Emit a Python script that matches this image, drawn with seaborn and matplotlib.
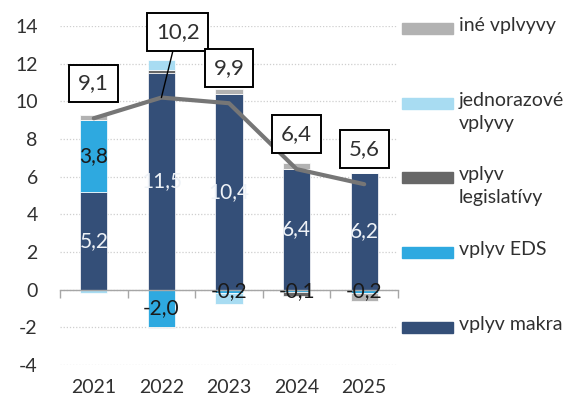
import numpy as np
import pandas as pd
import matplotlib
matplotlib.use("Agg")
import matplotlib.pyplot as plt
from matplotlib.patches import Rectangle
import seaborn as sns

years = ['2021', '2022', '2023', '2024', '2025']
makra = [5.2, 11.5, 10.4, 6.4, 6.2]
eds = [3.8, -2.0, -0.2, -0.1, -0.2]
legislativa = [0.0, 0.15, 0.0, -0.25, 0.0]
jednorazove = [-0.2, 0.55, -0.55, 0.0, 0.0]
ine = [0.3, -0.05, 0.25, 0.35, -0.4]
total = [9.1, 10.2, 9.9, 6.4, 5.6]

series = ['vplyv makra', 'vplyv EDS', 'vplyv legislatívy', 'jednorazové vplyvy', 'iné vplvyvy']
legend_labels = ['iné vplvyvy', 'jednorazové\nvplyvy', 'vplyv\nlegislatívy', 'vplyv EDS', 'vplyv makra']
colors = {
    'vplyv makra': '#344f78',
    'vplyv EDS': '#2ea9e0',
    'vplyv legislatívy': '#676767',
    'jednorazové vplyvy': '#a8dcf2',
    'iné vplvyvy': '#b2b2b2',
}

df = pd.DataFrame({
    'rok': years,
    'vplyv makra': makra,
    'vplyv EDS': eds,
    'vplyv legislatívy': legislativa,
    'jednorazové vplyvy': jednorazove,
    'iné vplvyvy': ine,
})

sns.set_theme(style='white')
plt.rcParams['font.family'] = ['Lato', 'DejaVu Sans']
plt.rcParams['axes.unicode_minus'] = False

TXT = '#303030'


def fmt(v):
    return f"{v:.1f}".replace('.', ',')


fig = plt.figure(figsize=(5.65, 4.05), dpi=100)
ax = fig.add_axes([60 / 565, 40 / 405, 338 / 565, 339 / 405])

# stacked bars: positive parts stack up, negative parts stack down
pos_base = np.zeros(len(years))
neg_base = np.zeros(len(years))
for name in series:
    vals = df[name].to_numpy()
    bottom = np.where(vals >= 0, pos_base, neg_base)
    sns.barplot(x=df['rok'], y=vals, bottom=bottom, color=colors[name], saturation=1,
                width=0.4, errorbar=None, edgecolor='white', linewidth=0.5, ax=ax)
    pos_base += np.clip(vals, 0, None)
    neg_base += np.clip(vals, None, 0)

# data labels on makra and EDS segments
ax.bar_label(ax.containers[0], labels=[fmt(v) for v in makra], label_type='center',
             color='#eef2f7', fontsize=15)
ax.bar_label(ax.containers[1], labels=[fmt(v) for v in eds], label_type='center',
             color='#1a1a1a', fontsize=15)

x = np.arange(len(years))
sns.lineplot(x=x, y=total, color='#767676', linewidth=3, ax=ax, zorder=5)

for i, v in enumerate(total):
    box = dict(boxstyle='square,pad=0.4', fc='white', ec='black', lw=1.4)
    if i == 1:
        ax.annotate(fmt(v), xy=(i, v), xytext=(i + 0.24, v + 3.5), ha='center', va='center',
                    fontsize=16, color=TXT, bbox=box, annotation_clip=False, zorder=6,
                    arrowprops=dict(arrowstyle='-', color='black', lw=1, shrinkA=0, shrinkB=0))
    else:
        ax.annotate(fmt(v), xy=(i, v), xytext=(i, v + 1.85), ha='center', va='center',
                    fontsize=16, color=TXT, bbox=box, annotation_clip=False, zorder=6)

ax.set_ylim(-4, 14)
ax.set_xlim(-0.5, len(years) - 0.5)
ax.set_yticks(range(-4, 15, 2))
ax.set_xticks(x, years)
ax.set_xticks(np.arange(-0.5, len(years), 1), minor=True)
ax.set_xlabel('')
ax.set_ylabel('')

for s in ['top', 'right', 'left']:
    ax.spines[s].set_visible(False)
ax.spines['bottom'].set_position(('data', 0))
ax.spines['bottom'].set_color('#a6a6a6')
ax.spines['bottom'].set_linewidth(1)
ax.spines['bottom'].set_zorder(1)

ax.tick_params(axis='x', which='major', length=0, pad=64, labelsize=14, labelcolor=TXT)
ax.tick_params(axis='x', which='minor', length=6, width=1, color='#a6a6a6', bottom=True)
ax.tick_params(axis='y', length=0, pad=16, labelsize=14, labelcolor=TXT)
ax.yaxis.grid(True, linestyle=(0, (1, 1.5)), color='#cfcfcf', linewidth=0.9)
ax.set_axisbelow(True)

# legend on the right, entries top-aligned like the original
entry_y = [28, 103, 177, 252, 327]
for lab, name_y, name in zip(legend_labels, entry_y, series[::-1]):
    fig.patches.append(Rectangle((402 / 565, 1 - (name_y + 5.5) / 405), 51 / 565, 11 / 405,
                                 transform=fig.transFigure, color=colors[name]))
    fig.text(459 / 565, 1 - (name_y - 11) / 405, lab, fontsize=14, color=TXT,
             va='top', ha='left', linespacing=1.45)

fig.savefig('out.png', dpi=100)
